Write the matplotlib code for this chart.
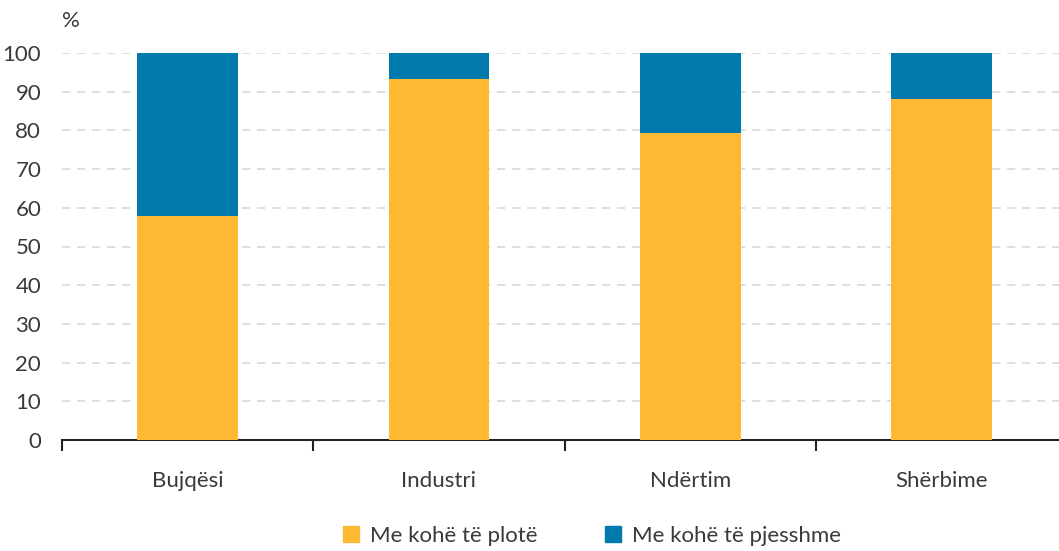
import matplotlib.pyplot as plt
from matplotlib.patches import Patch

plt.rcParams['font.family'] = ['Lato', 'DejaVu Sans']

categories = ['Bujqësi', 'Industri', 'Ndërtim', 'Shërbime']
full_time = [57.9, 93.2, 79.3, 88.1]
part_time = [42.1, 6.8, 20.7, 11.9]
yticks = [0, 10, 20, 30, 40, 50, 60, 70, 80, 90, 100]

YELLOW = '#FDB933'
BLUE = '#0079AD'
TEXT = '#3a3a3a'
FS = 16

fig = plt.figure(figsize=(10.59, 5.51), dpi=100)
ax = fig.add_axes([62 / 1059, 1 - 440 / 551, 997 / 1059, 387 / 551])

x = range(len(categories))
ax.bar(x, full_time, width=0.40, color=YELLOW, zorder=3)
ax.bar(x, part_time, width=0.40, bottom=full_time, color=BLUE, zorder=3)

ax.set_xlim(-0.5, -0.5 + 997 / 251.3)
ax.set_ylim(0, 100)
ax.set_yticks(yticks)
ax.yaxis.grid(True, color='#d9d9d9', linestyle=(0, (5, 4)), linewidth=1.2, zorder=0)
ax.tick_params(axis='y', length=0, labelsize=FS, labelcolor=TEXT, pad=15)

ax.set_xticks(list(x))
ax.set_xticklabels(categories)
ax.set_xticks([i - 0.5 for i in x], minor=True)
ax.tick_params(axis='x', which='major', length=0, labelsize=FS, labelcolor=TEXT, pad=22)
ax.tick_params(axis='x', which='minor', length=8, width=1.5, color='#222222', direction='out')

for s in ['top', 'right', 'left']:
    ax.spines[s].set_visible(False)
ax.spines['bottom'].set_color('#222222')
ax.spines['bottom'].set_linewidth(1.5)

fig.text(62 / 1059, 1 - 21 / 551, '%', fontsize=FS, color=TEXT, va='center', ha='left')

handles = [Patch(color=YELLOW, label='Me kohë të plotë'),
           Patch(color=BLUE, label='Me kohë të pjesshme')]
fig.legend(handles=handles, loc='center', bbox_to_anchor=(592 / 1059, 1 - 536 / 551),
           ncol=2, frameon=False, fontsize=FS, handlelength=0.75, handleheight=0.75,
           handletextpad=0.5, columnspacing=3.0, labelcolor=TEXT)

fig.savefig('out.png', dpi=100)
